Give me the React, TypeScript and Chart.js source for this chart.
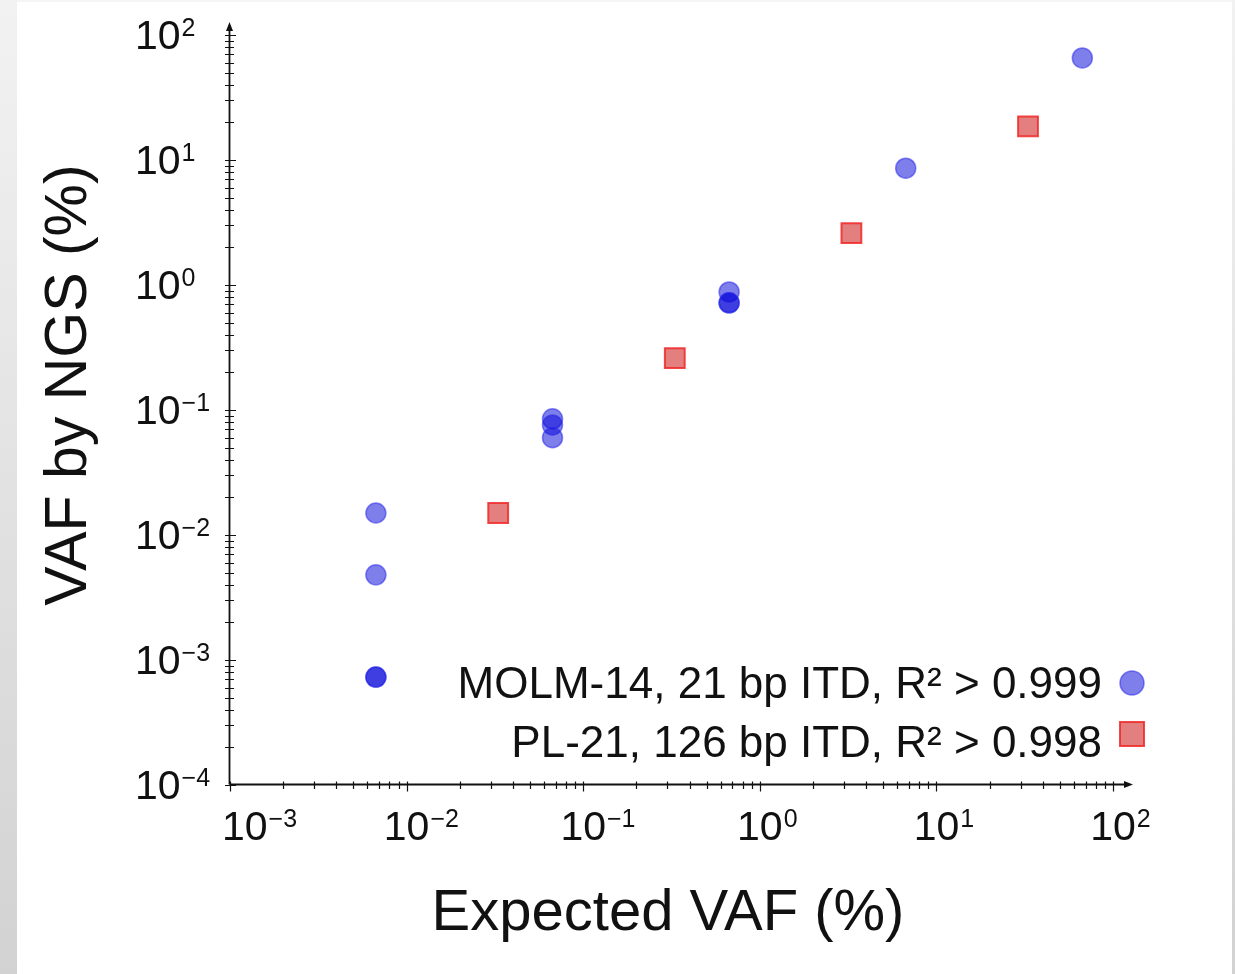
import React, { useEffect, useRef } from "react";
import { Chart, registerables } from "chart.js";

Chart.register(...registerables);

const W = 1235;
const H = 974;

// ---- data ----
const molmExpected = [0.0067, 0.0067, 0.0067, 0.0067, 0.067, 0.067, 0.067, 0.67, 0.67, 0.67, 6.7, 67];
const molmObserved = [0.015, 0.0048, 0.00073, 0.00073, 0.085, 0.076, 0.06, 0.88, 0.72, 0.72, 8.6, 65.5];
const plExpected = [0.033, 0.33, 3.3, 33];
const plObserved = [0.015, 0.26, 2.6, 18.6];

const seriesLabels = ["MOLM-14, 21 bp ITD, R\u00B2 > 0.999", "PL-21, 126 bp ITD, R\u00B2 > 0.998"];
const xDecades = [-3, -2, -1, 0, 1, 2];
const yDecades = [-4, -3, -2, -1, 0, 1, 2];
const xTitle = "Expected VAF (%)";
const yTitle = "VAF by NGS (%)";

const X_MIN = 1e-3;
const X_MAX = 129.7;
const Y_MIN = 1e-4;
const Y_MAX = 127;

const FONT = '"Liberation Sans", Arial, Helvetica, sans-serif';
const INK = "#111111";
const BLUE_FILL = "rgba(0,0,215,0.5)";
const BLUE_EDGE = "rgba(40,40,235,0.55)";
const RED_FILL = "rgba(200,0,0,0.5)";
const RED_EDGE = "rgba(240,40,40,0.85)";

function expText(d: number) {
  return d < 0 ? "\u2212" + Math.abs(d) : String(d);
}

const decor = {
  id: "decor",
  beforeDraw(chart: any) {
    const ctx = chart.ctx as CanvasRenderingContext2D;
    ctx.save();
    ctx.fillStyle = "#ffffff";
    ctx.fillRect(0, 0, W, H);
    const g = ctx.createLinearGradient(0, 0, 0, H);
    g.addColorStop(0, "#f2f2f2");
    g.addColorStop(1, "#d2d2d2");
    ctx.fillStyle = g;
    ctx.fillRect(0, 0, 17, H);
    ctx.fillRect(1232, 0, 3, H);
    ctx.fillStyle = "#f5f5f5";
    ctx.fillRect(17, 0, 1215, 2);
    ctx.restore();
  },
  beforeDatasetsDraw(chart: any) {
    const ctx = chart.ctx as CanvasRenderingContext2D;
    const xs = chart.scales.x;
    const ys = chart.scales.y;
    const ax = xs.getPixelForValue(X_MIN) - 0.5;
    const ay = ys.getPixelForValue(Y_MIN) - 0.5;
    const yTop = ys.getPixelForValue(Y_MAX);
    const xRight = xs.getPixelForValue(X_MAX);
    ctx.save();
    ctx.strokeStyle = INK;
    ctx.fillStyle = INK;
    ctx.lineWidth = 1.8;
    // axis lines
    ctx.beginPath();
    ctx.moveTo(ax, ay);
    ctx.lineTo(ax, yTop + 6);
    ctx.moveTo(ax, ay);
    ctx.lineTo(xRight - 6, ay);
    ctx.stroke();
    // arrowheads
    ctx.beginPath();
    ctx.moveTo(ax, yTop);
    ctx.lineTo(ax - 3.5, yTop + 9);
    ctx.lineTo(ax + 3.5, yTop + 9);
    ctx.closePath();
    ctx.fill();
    ctx.beginPath();
    ctx.moveTo(xRight, ay);
    ctx.lineTo(xRight - 9, ay - 3.5);
    ctx.lineTo(xRight - 9, ay + 3.5);
    ctx.closePath();
    ctx.fill();
    // ticks
    ctx.lineWidth = 1.2;
    ctx.beginPath();
    for (const d of yDecades) {
      for (let m = 1; m <= 9; m++) {
        const v = m * Math.pow(10, d);
        if (v > Y_MAX * 1.0001 || v < Y_MIN * 0.9999) continue;
        const py = Math.round(ys.getPixelForValue(v)) + 0.5;
        ctx.moveTo(ax - 4.5, py);
        ctx.lineTo(ax + (m === 1 ? 6.5 : 4.5), py);
      }
    }
    for (const d of xDecades) {
      for (let m = 1; m <= 9; m++) {
        const v = m * Math.pow(10, d);
        if (v > X_MAX * 1.0001 || v < X_MIN * 0.9999) continue;
        const px = Math.round(xs.getPixelForValue(v)) + 0.5;
        ctx.moveTo(px, ay - 3);
        ctx.lineTo(px, ay + (m === 1 ? 7 : 4.5));
      }
    }
    ctx.stroke();

    // tick labels
    ctx.textBaseline = "alphabetic";
    ctx.textAlign = "left";
    const bigFont = `41px ${FONT}`;
    const supFont = `25px ${FONT}`;
    ctx.font = bigFont;
    const w10 = ctx.measureText("10").width;
    for (const d of yDecades) {
      const py = ys.getPixelForValue(Math.pow(10, d));
      const base = py + 14;
      const left = 135;
      ctx.font = bigFont;
      ctx.fillText("10", left, base);
      ctx.font = supFont;
      ctx.fillText(expText(d), left + w10 + 1, base - 13);
    }
    for (const d of xDecades) {
      const px = xs.getPixelForValue(Math.pow(10, d));
      const base = 840;
      const left = Math.max(px - w10 / 2, 222);
      ctx.font = bigFont;
      ctx.fillText("10", left, base);
      ctx.font = supFont;
      ctx.fillText(expText(d), left + w10 + 1, base - 13);
    }

    // axis titles
    ctx.font = `58px ${FONT}`;
    ctx.textAlign = "center";
    ctx.fillText(xTitle, 668, 930);
    ctx.save();
    ctx.translate(86, 385);
    ctx.rotate(-Math.PI / 2);
    ctx.font = `59px ${FONT}`;
    ctx.fillText(yTitle, 0, 0);
    ctx.restore();
    ctx.restore();
  },
  afterDraw(chart: any) {
    const ctx = chart.ctx as CanvasRenderingContext2D;
    ctx.save();
    ctx.font = `44px ${FONT}`;
    ctx.fillStyle = INK;
    ctx.textAlign = "right";
    ctx.textBaseline = "alphabetic";
    ctx.fillText(seriesLabels[0], 1102, 698);
    ctx.fillText(seriesLabels[1], 1102, 757);
    // markers
    ctx.beginPath();
    ctx.arc(1132, 683, 12, 0, Math.PI * 2);
    ctx.fillStyle = BLUE_FILL;
    ctx.fill();
    ctx.lineWidth = 1.5;
    ctx.strokeStyle = BLUE_EDGE;
    ctx.stroke();
    ctx.beginPath();
    ctx.rect(1120, 722, 24, 24);
    ctx.fillStyle = RED_FILL;
    ctx.fill();
    ctx.lineWidth = 2;
    ctx.strokeStyle = RED_EDGE;
    ctx.stroke();
    ctx.restore();
  },
};

export default function App() {
  const ref = useRef<HTMLCanvasElement | null>(null);
  useEffect(() => {
    if (!ref.current) return;
    const chart = new Chart(ref.current, {
      type: "scatter",
      data: {
        datasets: [
          {
            label: seriesLabels[0],
            data: molmExpected.map((x, i) => ({ x, y: molmObserved[i] })),
            pointStyle: "circle",
            pointRadius: 10,
            pointHoverRadius: 10,
            backgroundColor: BLUE_FILL,
            borderColor: BLUE_EDGE,
            borderWidth: 1.5,
          },
          {
            label: seriesLabels[1],
            data: plExpected.map((x, i) => ({ x, y: plObserved[i] })),
            pointStyle: "rect",
            pointRadius: 14,
            pointHoverRadius: 14,
            backgroundColor: RED_FILL,
            borderColor: RED_EDGE,
            borderWidth: 2,
          },
        ],
      },
      options: {
        animation: false,
        responsive: false,
        devicePixelRatio: 1,
        events: [],
        layout: { padding: { left: 230, right: W - 1133, top: 22, bottom: H - 785 } },
        plugins: {
          legend: { display: false },
          tooltip: { enabled: false },
          title: { display: false },
        },
        scales: {
          x: { type: "logarithmic", min: X_MIN, max: X_MAX, display: false },
          y: { type: "logarithmic", min: Y_MIN, max: Y_MAX, display: false },
        },
      },
      plugins: [decor],
    });
    return () => chart.destroy();
  }, []);
  return (
    <div style={{ position: "fixed", left: 0, top: 0, width: W, height: H, background: "#fff" }}>
      <canvas ref={ref} width={W} height={H} style={{ display: "block" }} />
    </div>
  );
}
